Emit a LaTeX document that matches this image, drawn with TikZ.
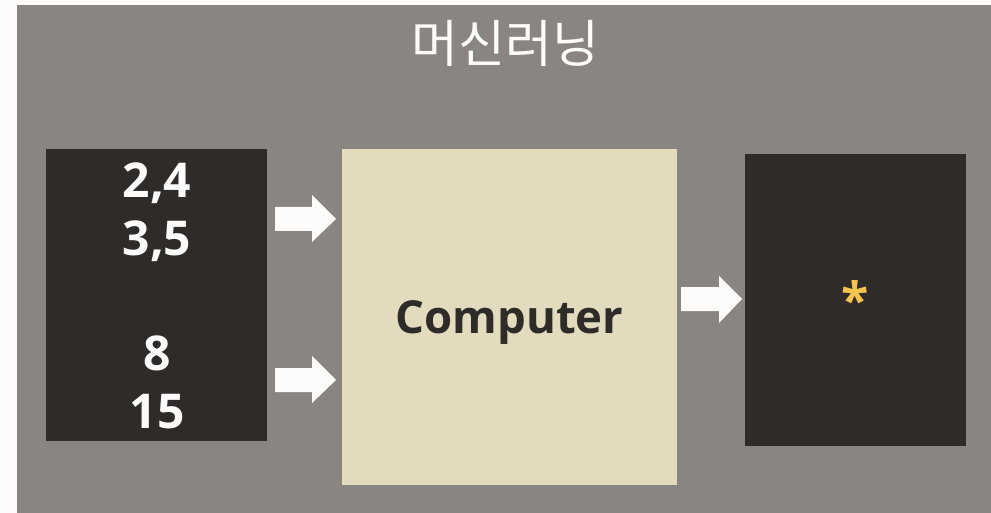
\documentclass[tikz,border=0pt]{standalone}
\usepackage{fontspec}
\setmainfont{Open Sans}
\newfontfamily\krfont{Noto Sans CJK KR}
\definecolor{pagebg}{HTML}{FDFCFB}
\definecolor{slate}{HTML}{8A8580}
\definecolor{ink}{HTML}{2F2B28}
\definecolor{sand}{HTML}{E3DBBE}
\definecolor{chalk}{HTML}{FDFCFA}
\definecolor{honey}{HTML}{F4C44E}
\tikzset{
  panel/.style={fill=ink, draw=none},
  core/.style={fill=sand, draw=none},
  numtext/.style={anchor=base, inner sep=0pt, text=chalk,
    font=\bfseries\fontsize{48}{56}\selectfont},
  blockarrow/.style={fill=chalk, draw=none},
}
\begin{document}
\begin{tikzpicture}[x=1pt, y=-1pt]
  % page and slide background
  \fill[pagebg] (0,0) rectangle (991,513);
  \useasboundingbox (0,0) rectangle (991,513);
  \fill[slate] (17,5) rectangle (991,513);

  % title
  \node[inner sep=0pt, text=chalk, font=\krfont\fontsize{51}{58}\selectfont]
    (title) at (505.5,43) {머신러닝};

  % input panel
  \path[panel] (46,149) rectangle (267,441);
  \node[numtext] (v1) at (157,198) {2,4};
  \node[numtext] (v2) at (157,255) {3,5};
  \node[numtext] (v3) at (157,370) {8};
  \node[numtext] (v4) at (157,428) {15};

  % computer
  \path[core] (342,149) rectangle (677,485);
  \node[anchor=base, inner sep=0pt, text=ink,
    font=\bfseries\fontsize{45.5}{54}\selectfont] (comp) at (509.5,333) {Computer};

  % output panel
  \path[panel] (745,154) rectangle (966,446);
  \node[anchor=base, inner sep=0pt, text=honey,
    font=\bfseries\fontsize{50}{58}\selectfont] (star) at (855.5,318) {*};

  % block arrows
  \fill[blockarrow] (275,207) -- (312,207) -- (312,195) -- (336,219)
    -- (312,242) -- (312,231) -- (275,231) -- cycle;
  \fill[blockarrow] (275,368) -- (312,368) -- (312,356) -- (336,380)
    -- (312,403) -- (312,392) -- (275,392) -- cycle;
  \fill[blockarrow] (681,287) -- (719,287) -- (719,276) -- (742,299)
    -- (719,323) -- (719,311) -- (681,311) -- cycle;
\end{tikzpicture}
\end{document}
